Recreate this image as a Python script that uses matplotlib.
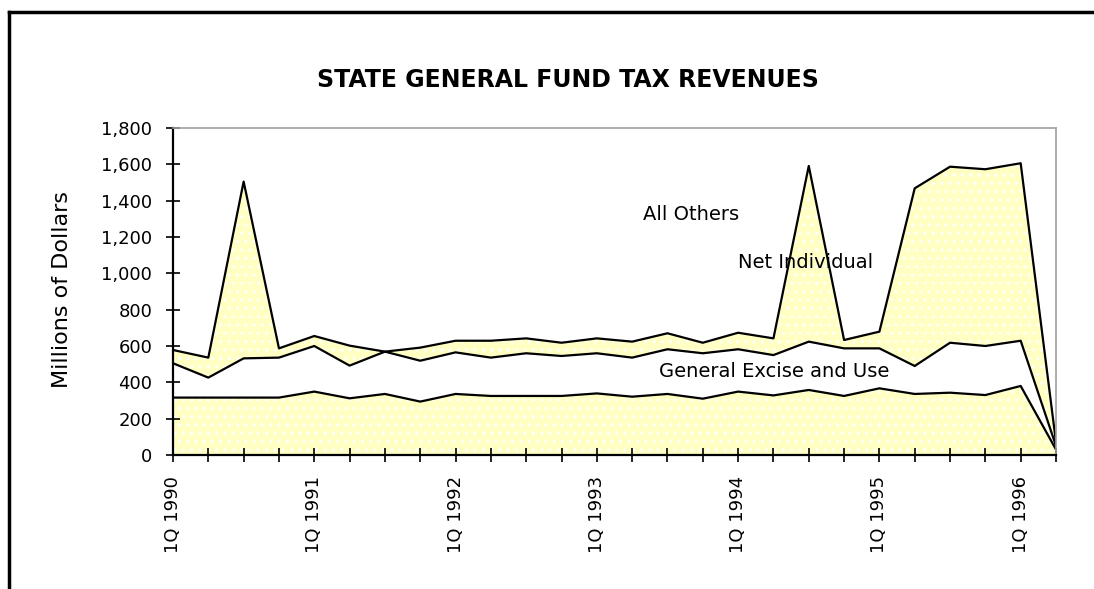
import matplotlib
matplotlib.use('Agg')
import matplotlib.pyplot as plt
import numpy as np

# quarters 1Q 1990 .. 2Q 1996
quarters = ['1Q 1990', '2Q 1990', '3Q 1990', '4Q 1990',
            '1Q 1991', '2Q 1991', '3Q 1991', '4Q 1991',
            '1Q 1992', '2Q 1992', '3Q 1992', '4Q 1992',
            '1Q 1993', '2Q 1993', '3Q 1993', '4Q 1993',
            '1Q 1994', '2Q 1994', '3Q 1994', '4Q 1994',
            '1Q 1995', '2Q 1995', '3Q 1995', '4Q 1995',
            '1Q 1996', '2Q 1996']

general_excise = [316, 316, 316, 316, 349, 312, 336, 294, 336, 325, 325, 325, 339,
                  321, 336, 310, 349, 328, 358, 325, 367, 336, 343, 330, 380, 30]
net_individual = [189, 110, 216, 220, 251, 180, 233, 225, 229, 211, 235, 220, 221,
                  215, 246, 250, 233, 222, 266, 262, 220, 154, 275, 270, 249, 20]
all_others = [73, 110, 973, 51, 55, 110, 0, 72, 64, 93, 82, 73, 82,
              88, 88, 58, 91, 92, 967, 46, 92, 978, 969, 973, 977, 20]

series_names = ['General Excise and Use', 'Net Individual', 'All Others']
yticks = [0, 200, 400, 600, 800, 1000, 1200, 1400, 1600, 1800]

plt.rcParams['hatch.color'] = 'white'
plt.rcParams['hatch.linewidth'] = 1.0

fig = plt.figure(figsize=(10.94, 5.89), dpi=100)
ax = fig.add_axes([173/1094, 1-455/589, (1056-173)/1094, (455-128)/589])

x = np.arange(len(quarters))
stack = np.cumsum(np.vstack([general_excise, net_individual, all_others]), axis=0)
yellow = '#ffffc4'
fills = [yellow, 'white', yellow]
lower = np.zeros(len(x))
for i in range(3):
    ax.fill_between(x, lower, stack[i], facecolor=fills[i], edgecolor='none',
                    hatch='..' if i != 1 else None, linewidth=0)
    ax.plot(x, stack[i], color='black', lw=1.6)
    lower = stack[i]

ax.set_xlim(0, len(x) - 1)
ax.set_ylim(0, 1800)
ax.set_yticks(yticks)
ax.set_yticklabels(['{:,}'.format(v) for v in yticks], fontsize=13)
ax.set_xticks(x)
ax.set_xticklabels([q if q.startswith('1Q') else '' for q in quarters],
                   rotation=90, fontsize=13)
ax.tick_params(direction='inout', length=10, width=1.2, pad=10)

for s in ['left', 'bottom']:
    ax.spines[s].set_linewidth(1.6)
for s in ['top', 'right']:
    ax.spines[s].set_color('#a0a0a0')
    ax.spines[s].set_linewidth(1.2)

ax.text(13.3, 1326, series_names[2], fontsize=14, va='center')
ax.text(16.0, 1057, series_names[1], fontsize=14, va='center')
ax.text(13.76, 457, series_names[0], fontsize=14, va='center')

fig.text(0.519, 1-80/589, 'STATE GENERAL FUND TAX REVENUES', ha='center', va='center',
         fontsize=17, fontweight='bold')
fig.text(62/1094, 1-290/589, 'Millions of Dollars', rotation=90, ha='center', va='center',
         fontsize=16)

# chart area border (top and left edges visible)
fig.add_artist(plt.Line2D([9/1094, 1.01], [1-12/589, 1-12/589], color='black', lw=2.5,
                          transform=fig.transFigure))
fig.add_artist(plt.Line2D([9/1094, 9/1094], [-0.01, 1-12/589], color='black', lw=2.5,
                          transform=fig.transFigure))

fig.savefig('out.png', dpi=100)
